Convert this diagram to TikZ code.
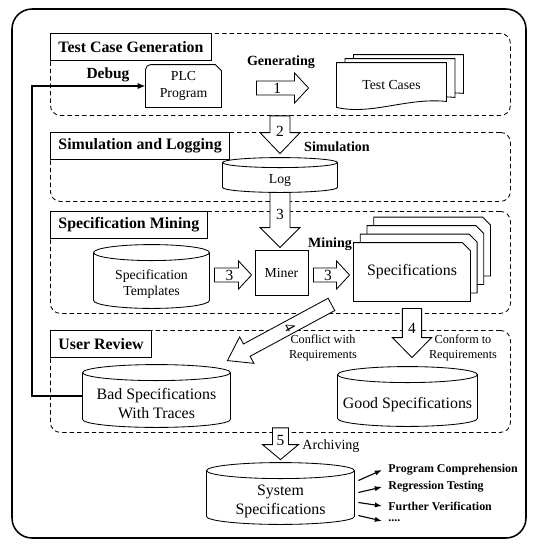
\documentclass[tikz,border=0pt]{standalone}
\usepackage{fontspec}
\setmainfont{Liberation Serif}
\usetikzlibrary{calc,positioning,arrows.meta}

\tikzset{
  sec/.style={draw, dash pattern=on 1.1mm off 0.75mm, rounded corners=2.5mm, anchor=north west, minimum width=115mm, inner sep=0},
  sectitle/.style={draw, solid, fill=white, anchor=north west, minimum height=6.75mm, inner xsep=2mm, inner ysep=0, font=\bfseries\fontsize{11.3}{13}\selectfont},
  big/.style={font=\fontsize{11.3}{13.5}\selectfont, align=center, inner sep=0},
  small/.style={font=\fontsize{9.8}{11.5}\selectfont, align=center, inner sep=0},
  tag/.style={font=\bfseries\fontsize{10}{12}\selectfont},
  note/.style={font=\fontsize{8.7}{10}\selectfont, align=center},
  num/.style={font=\fontsize{11}{13}\selectfont, inner sep=0},
  shapebox/.style={inner sep=0},
  usage/.style={anchor=west, inner xsep=1.5mm, font=\bfseries\fontsize{8.5}{10}\selectfont},
  usearrow/.style={-{Latex[length=1.8mm, width=1.3mm]}, line width=0.8pt},
}

% cylinder round a node: node name, half height of the ellipse
\newcommand{\drawdb}[2]{%
  \draw let \p1=(#1.north west), \p2=(#1.south east), \n1={(\x2-\x1)/2} in
    (\x1,\y1+#2) -- (\x1,\y2+#2) arc[start angle=180, end angle=360, x radius=\n1, y radius=#2]
    -- (\x2,\y1+#2) arc[start angle=0, end angle=180, x radius=\n1, y radius=#2] -- cycle
    (\x2,\y1+#2) arc[start angle=0, end angle=-180, x radius=\n1, y radius=#2];
}
% document sheet with a wavy bottom
\newcommand{\drawdoc}[3]{%
  \draw[fill=white] ($(#1.north west)+(#2,#3)$) -- ($(#1.south west)+(#2,#3)$)
    .. controls ($(#1.south west)+(#2+35,#3+8)$) and ($(#1.south east)+(#2-40,#3-10)$) .. ($(#1.south east)+(#2,#3-6)$)
    -- ($(#1.north east)+(#2,#3)$) -- cycle;
}
% sheet with a cut corner
\newcommand{\drawchamf}[3]{%
  \draw[fill=white] ($(#1.south west)+(#2,#3)$) -- ($(#1.north west)+(#2,#3)$)
    -- ($(#1.north east)+(#2-8,#3)$) -- ($(#1.north east)+(#2,#3+8)$)
    -- ($(#1.south east)+(#2,#3)$) -- cycle;
}
% block arrow: tail, tip, half shaft, half head, head length, label, label rotation
\newcommand{\blockarrow}[7]{%
  \coordinate (hb) at ($(#2)!#5!(#1)$);
  \draw[fill=white] ($(#1)!#3!90:(#2)$) -- ($(hb)!#3!90:(#2)$) -- ($(hb)!#4!90:(#2)$) -- (#2)
    -- ($(hb)!#4!-90:(#2)$) -- ($(hb)!#3!-90:(#2)$) -- ($(#1)!#3!-90:(#2)$) -- cycle;
  \node[num, rotate=#7] at ($(#1)!0.4!(#2)$) {#6};
}

\begin{document}
\begin{tikzpicture}[x=0.25mm, y=-0.25mm, line width=0.6pt]
\useasboundingbox (0,0) rectangle (538,550);

% outer frame
\draw[line width=1.1pt, rounded corners=5mm] (12,9) rectangle (526,538);

% the four stages
\node[sec, minimum height=20.5mm] (sec1) at (50,33) {};
\node[sec, minimum height=17.25mm] (sec2) at (50,132) {};
\node[sec, minimum height=25.5mm] (sec3) at (50,211) {};
\node[sec, minimum height=25.5mm] (sec4) at (50,330) {};
\node[sectitle] (title1) at (sec1.north west) {Test Case Generation};
\node[sectitle] (title2) at (sec2.north west) {Simulation and Logging};
\node[sectitle] (title3) at (sec3.north west) {Specification Mining};
\node[sectitle] (title4) at (sec4.north west) {User Review};

% test case generation
\node[small, minimum width=18.75mm, minimum height=10.5mm] (plc) at (183.5,86) {PLC\\Program};
\draw (plc.south west) -- ($(plc.north west)+(0,5)$) arc[start angle=180, end angle=90, radius=1.25mm]
  -- ($(plc.north east)+(-6,0)$) -- ($(plc.north east)+(0,6)$) -- (plc.south east) -- cycle;
\node[tag, font=\bfseries\fontsize{11}{13}\selectfont] (debug) at (108,75) {Debug};

\node[shapebox, minimum width=27.25mm, minimum height=11mm] (cases) at (391.5,85) {};
\foreach \k in {2,1,0} {\drawdoc{cases}{8.5*\k}{-4*\k}}
\node[small] (casestext) at (cases.center) {Test Cases};

\node[tag] (gen) at (281,62) {Generating};
\coordinate (gen1) at ($(plc.east)+(35,2)$);
\coordinate (gen2) at ($(cases.west)+(-28,3)$);
\blockarrow{gen1}{gen2}{1.75mm}{3.75mm}{3.5mm}{1}{0}

% simulation and logging
\node[small, minimum width=28.5mm, minimum height=6mm] (log) at (280,180) {Log};
\drawdb{log}{1.25mm}
\node[tag] (sim) at (337,147) {Simulation};
\coordinate (sim1) at (sec1.south -| log.north);
\coordinate (sim2) at ($(log.north)+(0,-14)$);
\blockarrow{sim1}{sim2}{2.5mm}{5mm}{5.25mm}{2}{0}

% specification mining
\node[small, draw, minimum width=13.25mm, minimum height=11.25mm] (miner) at (281.5,272.5) {Miner};
\node[small, minimum width=28.75mm, minimum height=11.75mm] (templ) at (151.5,284.5) {Specification\\Templates};
\drawdb{templ}{2mm}

\node[shapebox, minimum width=29mm, minimum height=14.5mm] (specs) at (412,272) {};
\foreach \k in {3,2,1,0} {\drawchamf{specs}{6.7*\k}{-8.5*\k}}
\node[big] (specstext) at (specs.center) {Specifications};
\node[tag] (mining) at (330,244) {Mining};

\coordinate (mine0) at (log.south);
\coordinate (mine1) at ($(log.south |- miner.north)+(0,-2)$);
\blockarrow{mine0}{mine1}{2.5mm}{5mm}{5mm}{3}{0}
\coordinate (mine2) at ($(miner.west)+(-40,2.5)$);
\coordinate (mine3) at ($(miner.west)+(-3,2.5)$);
\blockarrow{mine2}{mine3}{1.75mm}{3.5mm}{3.25mm}{3}{0}
\coordinate (mine4) at ($(miner.east)+(5,2.5)$);
\coordinate (mine5) at ($(specs.west)+(-4,3)$);
\blockarrow{mine4}{mine5}{1.75mm}{3.5mm}{3.25mm}{3}{0}

% user review
\node[big, minimum width=36.75mm, minimum height=11.5mm] (bad) at (156.5,404) {Bad Specifications\\With Traces};
\drawdb{bad}{2mm}
\node[big, minimum width=34.75mm, minimum height=10.75mm] (good) at (407.5,404.5) {Good Specifications};
\drawdb{good}{2mm}

\coordinate (rev1) at ($(miner.south east)+(23,9)$);
\coordinate (rev2) at ($(bad.north east)+(-3,-20)$);
\blockarrow{rev1}{rev2}{1.75mm}{3.75mm}{5.5mm}{4}{-60}
\node[note] (conflict) at (323,348) {Conflict with\\Requirements};

\coordinate (rev3) at ($(specs.south)+(0,7)$);
\coordinate (rev4) at ($(specs.south |- good.north)+(0,-25)$);
\blockarrow{rev3}{rev4}{2.4mm}{4.9mm}{5mm}{4}{0}
\node[note] (conform) at (463,348) {Conform to\\Requirements};

% debug loop back to the program
\draw[line width=1.4pt, -{Latex[length=2mm, width=1.6mm]}] ($(bad.west)+(0,-8)$) -- ++(-51,0) |- (plc.west);

% archiving
\node[big, minimum width=36.75mm, minimum height=11.25mm] (system) at (280.5,501.5) {System\\Specifications};
\drawdb{system}{2mm}
\coordinate (arch1) at ($(sec4.south -| system.north)+(0,-5)$);
\coordinate (arch2) at ($(system.north)+(0,-19)$);
\blockarrow{arch1}{arch2}{2mm}{4.5mm}{3.75mm}{5}{0}
\node[font=\fontsize{10}{12}\selectfont] (archiving) at (331,446) {Archiving};

\foreach \i/\txt/\y/\s in {1/Program Comprehension/470/-21, 2/Regression Testing/487/-9, 3/Further Verification/506/1} {
  \node[usage] (use\i) at (382,\y) {\txt};
  \draw[usearrow] ($(system.east)+(4,\s)$) -- (use\i.west);
}
\node[usage] (use4) at (382,521) {....};
\draw[usearrow] ($(system.east)+(4,14)$) -- (use4.west);

\end{tikzpicture}
\end{document}
